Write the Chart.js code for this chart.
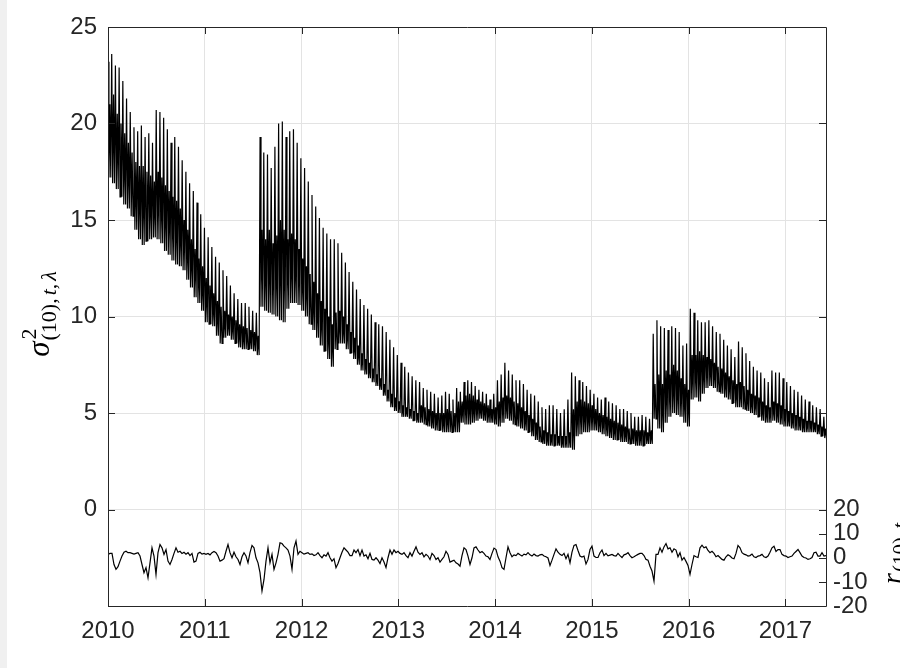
<!DOCTYPE html>
<html>
<head>
<meta charset="utf-8">
<script src="https://cdn.jsdelivr.net/npm/chart.js@4.4.1/dist/chart.umd.min.js"></script>
<style>
  html, body { margin: 0; padding: 0; background: #ffffff; }
  #wrap { width: 900px; height: 668px; position: relative; }
</style>
</head>
<body>
<div id="wrap"><canvas id="chart" width="900" height="668"></canvas></div>
<script>
// ---- data -------------------------------------------------------------
// Conditional variance, one record every 14 days: cycle peak, secondary level, trough.
const startYear = 2010;
const endYear = 2017.42;
const cycleDays = 14;

const sigmaHigh = [
  23.2, 23.6, 23.0, 22.9, 22.2, 21.3, 20.6, 19.8, 19.6, 19.9, 19.3, 19.5, 19.0, 20.7, 20.6, 20.3, 19.7, 19.0, 19.3, 18.8,
  18.1, 17.5, 16.9, 16.5, 15.9, 15.3, 14.6, 14.1, 13.6, 13.1, 12.8, 12.4, 12.1, 11.6, 11.2, 10.9, 10.7, 10.7, 10.5, 10.3,
  10.2,
  19.3, 18.5, 18.4, 17.7, 18.8, 20.0, 20.1, 19.3, 19.6, 19.7, 19.0, 18.2, 17.7, 17.0, 16.3, 15.7, 15.1, 14.6, 14.3, 14.0,
  14.0, 13.8, 13.3, 12.8, 12.3, 11.8, 11.4, 10.9, 10.6, 10.4, 10.1, 9.7, 9.6, 9.5, 9.2, 8.8, 8.4, 8.0, 7.6, 7.4,
  7.1, 6.9, 6.7, 6.6, 6.3, 6.2, 6.1, 6.0, 5.8, 5.9, 6.1, 6.0, 5.7, 6.3, 6.1, 6.6, 6.7, 6.6, 6.4, 6.2,
  6.1, 6.0, 5.7, 6.0, 6.7, 7.0, 7.6, 7.2, 7.0, 6.7, 6.7, 6.5, 6.2, 6.0, 5.9, 5.6, 5.3, 5.2, 5.4, 5.4,
  5.2, 5.0, 5.2, 5.7, 7.1, 6.9, 6.7, 6.6, 6.4, 6.2, 6.0, 5.8, 5.7, 5.8, 5.6, 5.5, 5.4, 5.2, 5.2, 5.1,
  5.0, 4.8, 4.8, 4.9, 4.8, 4.7, 9.1, 9.8, 9.5, 9.4, 9.3, 9.5, 9.4, 9.2, 8.5, 8.6, 10.4, 10.2, 9.8, 9.7,
  9.7, 9.8, 9.5, 9.2, 9.1, 8.8, 8.5, 8.3, 7.9, 8.7, 8.4, 8.1, 7.7, 7.4, 7.2, 7.1, 6.8, 6.6, 7.2, 7.1,
  7.1, 6.8, 6.6, 6.4, 6.2, 6.1, 5.9, 5.7, 5.6, 5.4, 5.3, 5.2, 4.8
];

const sigmaMid = [
  21.0, 21.5, 20.5, 20.0, 19.5, 19.0, 18.5, 18.0, 17.8, 17.8, 17.5, 17.3, 17.0, 17.5, 17.2, 16.8, 16.5, 16.2, 16.0, 15.6,
  15.0, 14.5, 14.0, 13.5, 13.0, 12.6, 12.0, 11.6, 11.2, 10.8, 10.5, 10.3, 10.1, 10.0, 9.8, 9.6, 9.5, 9.4, 9.3, 9.2,
  9.0,
  14.5, 14.0, 14.5, 13.8, 14.2, 15.0, 14.5, 14.0, 14.3, 14.0, 13.5, 13.0, 12.6, 12.2, 11.8, 11.2, 10.8, 10.4, 10.0, 9.6,
  10.2, 10.3, 10.0, 9.6, 9.2, 8.9, 8.5, 8.1, 7.8, 7.6, 7.3, 7.0, 6.8, 6.5, 6.2, 6.0, 5.8, 5.6, 5.4, 5.3,
  5.2, 5.1, 5.0, 5.4, 5.3, 5.2, 5.1, 5.0, 5.0, 5.0, 5.2, 5.1, 5.0, 5.6, 5.6, 5.9, 6.0, 5.9, 5.7, 5.6,
  5.5, 5.4, 5.2, 5.3, 5.6, 5.8, 5.9, 5.8, 5.6, 5.5, 5.3, 5.1, 4.9, 4.7, 4.5, 4.3, 4.1, 4.0, 3.9, 3.9,
  3.8, 3.8, 3.8, 4.0, 5.2, 5.6, 5.7, 5.6, 5.5, 5.4, 5.2, 5.0, 4.9, 4.8, 4.7, 4.6, 4.5, 4.4, 4.3, 4.2,
  4.2, 4.1, 4.1, 4.1, 4.0, 4.1, 6.5, 7.0, 6.5, 7.2, 7.0, 7.5, 7.2, 6.8, 6.5, 6.2, 8.0, 8.0, 8.2, 8.0,
  7.9, 7.8, 7.6, 7.4, 7.3, 7.1, 6.9, 6.7, 6.5, 6.6, 6.4, 6.2, 6.0, 5.9, 5.8, 5.6, 5.4, 5.3, 5.6, 5.5,
  5.4, 5.2, 5.1, 5.0, 4.9, 4.8, 4.7, 4.6, 4.6, 4.5, 4.4, 4.3, 4.2
];

const sigmaLow = [
  17.2, 16.9, 16.6, 16.2, 15.8, 15.6, 15.2, 14.5, 14.0, 13.7, 13.9, 14.0, 14.1, 14.0, 13.8, 13.4, 13.2, 12.9, 12.7, 12.6,
  12.4, 11.9, 11.5, 11.0, 10.7, 10.3, 9.7, 9.6, 9.5, 9.0, 8.6, 8.9, 9.0, 8.8, 8.6, 8.4, 8.3, 8.3, 8.3, 8.2,
  8.0,
  10.5, 10.3, 10.2, 10.1, 10.0, 9.8, 9.7, 10.4, 10.7, 10.7, 10.6, 10.3, 10.0, 9.6, 9.3, 8.9, 8.5, 8.2, 7.8, 7.4,
  8.3, 8.6, 8.6, 8.3, 8.1, 7.8, 7.5, 7.2, 7.0, 6.8, 6.6, 6.4, 6.2, 5.9, 5.6, 5.3, 5.1, 5.0, 4.8, 4.8,
  4.7, 4.6, 4.5, 4.5, 4.4, 4.3, 4.2, 4.1, 4.1, 4.0, 4.0, 4.0, 4.0, 4.0, 4.5, 4.4, 4.4, 4.5, 4.6, 4.7,
  4.6, 4.5, 4.5, 4.4, 4.3, 4.5, 4.7, 4.6, 4.4, 4.3, 4.2, 4.1, 4.0, 3.8, 3.6, 3.5, 3.4, 3.3, 3.3, 3.3,
  3.3, 3.2, 3.2, 3.2, 3.1, 3.8, 3.9, 4.0, 4.0, 4.1, 4.1, 4.0, 3.9, 3.8, 3.7, 3.6, 3.6, 3.5, 3.5, 3.4,
  3.4, 3.3, 3.3, 3.3, 3.4, 3.4, 4.7, 4.2, 4.0, 4.5, 4.8, 5.0, 4.9, 4.8, 4.5, 4.3, 5.7, 5.8, 5.6, 6.0,
  6.3, 6.4, 6.3, 6.1, 6.0, 5.8, 5.7, 5.5, 5.3, 5.3, 5.2, 5.1, 5.0, 4.9, 4.8, 4.6, 4.5, 4.5, 4.6, 4.5,
  4.4, 4.3, 4.3, 4.2, 4.1, 4.1, 4.0, 4.0, 4.0, 4.0, 3.9, 3.8, 3.7
];

// 10-day returns, evenly spaced from startYear to endYear.
const returns10 = [
  1.4, 1.8, 1.8, -2.8, -4.8, -3.7, -1.4, 0.7, 2.3, 2.7, 2.1, 2.1, 1.8, 1.5, 1.8, 2.1, 0.7, -2.8, -6.2, -4.1,
  -8.3, -2.1, 4.1, 0.7, -6.9, 2.1, 5.5, 4.1, 1.4, 3.4, -1.4, -2.8, -0.7, 1.8, 4.1, 2.3, 2.7, 1.8, 2.3, 1.5,
  2.1, 0.9, 1.8, -1.8, -1.4, 1.8, 2.3, 1.5, 1.8, 1.4, 1.8, 1.2, 2.1, 2.6, 2.1, 0.7, -1.4, -1.0, -0.4, 2.7,
  5.5, 2.1, 0.0, 2.3, 0.4, -0.7, -2.8, 0.4, 2.1, 0.7, -2.1, 2.1, 5.1, 4.1, 0.0, -2.1, -6.2, -13.8, -9.0, -1.4,
  4.1, -2.1, 1.4, -4.8, -2.1, 1.4, 6.2, 5.9, 4.8, 4.1, 3.2, 0.7, -4.8, 4.1, 6.9, 1.4, 2.7, 2.1, 1.5, 1.8,
  2.1, 1.4, 1.6, 0.9, 1.2, 2.1, 0.9, 0.0, 1.2, 0.7, 2.1, 0.0, -1.4, -0.4, -4.1, -2.4, 0.0, 2.3, 4.1, 3.2,
  2.3, 0.9, 0.9, 3.2, 2.1, 3.4, 0.9, 3.2, 0.7, 1.2, -0.4, 1.8, -0.7, -1.0, 0.0, -1.0, -2.4, 0.0, -1.8, -4.1,
  0.0, 3.2, 1.4, 3.2, 2.1, 2.7, 1.8, 1.4, 2.1, 0.9, 0.0, 2.1, 0.7, 2.7, 4.5, 2.3, 1.4, 2.1, 0.4, 1.4,
  0.7, -0.7, 1.8, 0.9, -0.7, 0.0, -1.8, -0.7, 0.4, 2.7, 1.4, -1.8, -1.4, -1.0, -2.1, -2.6, -3.5, 0.9, 4.1, 3.4,
  0.7, -2.8, 0.0, 4.1, 4.5, 3.2, 2.1, 2.6, 1.8, 0.7, 0.4, -0.7, 1.8, 4.0, 3.4, 0.4, -1.4, -4.1, -4.8, 0.0,
  4.5, 2.1, 0.4, 1.2, 0.9, 1.8, 1.2, 0.7, 1.5, 1.2, 2.1, 1.2, 0.7, 1.5, 0.9, 0.7, 1.2, 1.4, 0.7, 0.4,
  -0.1, -3.2, -1.0, 1.4, 3.7, 2.3, 1.4, 0.9, 1.8, -0.4, 1.4, -2.1, 2.3, 5.1, 5.5, 3.0, 0.7, 0.3, 0.7, -2.6,
  -0.7, 3.4, 4.8, 0.7, 0.1, 0.1, 2.1, 3.2, 0.9, 1.8, 0.8, 1.1, 1.4, 0.9, 0.7, 1.8, 0.9, 0.1, 1.2, 1.5,
  2.1, 0.9, 0.0, 0.4, 0.9, 1.4, 1.8, 1.8, 0.9, -0.7, -1.0, -3.5, -5.5, -9.7, 1.4, 1.4, 4.1, 2.3, 4.5, 5.9,
  3.7, 4.1, 2.3, 3.7, 3.2, 0.4, 2.1, -1.0, 0.1, -1.5, -3.2, -6.9, -2.8, 0.9, 0.4, 0.1, 4.1, 5.2, 4.1, 4.5,
  3.0, 2.1, 2.7, 1.8, 0.4, 0.9, 0.1, -0.7, -1.0, 0.4, 1.2, 0.7, -0.1, -0.4, 1.8, 5.1, 4.1, 2.1, 1.5, 1.2,
  0.7, 0.9, 1.5, 0.4, 0.1, 0.7, 0.9, 1.4, 0.4, 0.1, 0.7, 2.3, 4.1, 4.8, 2.6, 3.4, 3.4, 1.4, 0.9, 0.7,
  0.1, 0.4, 0.7, 1.8, 2.6, 3.4, 2.1, 0.7, 0.1, -0.1, -0.7, -0.4, 0.1, 2.1, 2.3, 0.7, 0.7, 2.1, 0.7, 0.9
];

// Tick labels
const yearTicks = [2010, 2011, 2012, 2013, 2014, 2015, 2016, 2017];
const sigmaTicks = [-5, 0, 5, 10, 15, 20, 25];
const returnTicks = [-20, -10, 0, 10, 20];

// ---- build point lists ------------------------------------------------
const cycleYears = cycleDays / 365.25;
const sigmaPoints = [];
sigmaHigh.forEach((h, i) => {
  const t = startYear + i * cycleYears;
  sigmaPoints.push({ x: t, y: h });
  sigmaPoints.push({ x: t + cycleYears * 0.25, y: sigmaLow[i] });
  sigmaPoints.push({ x: t + cycleYears * 0.5, y: sigmaMid[i] });
  sigmaPoints.push({ x: t + cycleYears * 0.75, y: sigmaLow[i] });
});
const returnStep = (endYear - startYear) / (returns10.length - 1);
const returnPoints = returns10.map((r, k) => ({ x: startYear + k * returnStep, y: r }));

// ---- style ------------------------------------------------------------
const AXIS = '#262626';
const GRID = '#e3e3e3';
const SANS = '"Liberation Sans", Arial, Helvetica, sans-serif';
const SERIF = '"Liberation Serif", "Times New Roman", serif';
const TICK_LEN = 7;

// Draws a math-style label: italic symbol, optional superscript, subscript pieces.
function drawMathLabel(ctx, opts) {
  const { symbol, sup, sub, big, small, supShift, subShift, gap } = opts;
  ctx.font = 'italic ' + big + 'px ' + SERIF;
  const wSym = ctx.measureText(symbol).width;
  let wSub = 0;
  sub.forEach(p => {
    ctx.font = (p.it ? 'italic ' : '') + small + 'px ' + SERIF;
    wSub += ctx.measureText(p.t).width + (p.after || 0);
  });
  const total = wSym + gap + wSub;
  const x0 = opts.align === 'center' ? -total / 2 : 0;
  ctx.font = 'italic ' + big + 'px ' + SERIF;
  ctx.fillText(symbol, x0, 0);
  if (sup) {
    ctx.font = small + 'px ' + SERIF;
    ctx.fillText(sup, x0 + wSym + gap + 1, supShift);
  }
  let xs = x0 + wSym + gap;
  sub.forEach(p => {
    ctx.font = (p.it ? 'italic ' : '') + small + 'px ' + SERIF;
    ctx.fillText(p.t, xs, subShift);
    xs += ctx.measureText(p.t).width + (p.after || 0);
  });
}

// Box, inward tick marks, axis labels and the figure edge strip.
const framePlugin = {
  id: 'frame',
  beforeDraw(chart) {
    const ctx = chart.ctx;
    ctx.save();
    ctx.fillStyle = '#f0f0f0';
    ctx.fillRect(0, 0, 7, chart.height);
    ctx.restore();
  },
  afterDraw(chart) {
    const { ctx, chartArea: a, scales } = chart;
    ctx.save();
    ctx.strokeStyle = AXIS;
    ctx.lineWidth = 1;
    ctx.beginPath();
    ctx.rect(Math.round(a.left) + 0.5, Math.round(a.top) + 0.5,
             Math.round(a.right - a.left), Math.round(a.bottom - a.top));
    ctx.stroke();

    ctx.beginPath();
    yearTicks.forEach(v => {
      const px = Math.round(scales.x.getPixelForValue(v)) + 0.5;
      ctx.moveTo(px, a.bottom); ctx.lineTo(px, a.bottom - TICK_LEN);
      ctx.moveTo(px, a.top); ctx.lineTo(px, a.top + TICK_LEN);
    });
    sigmaTicks.forEach(v => {
      const py = Math.round(scales.y.getPixelForValue(v)) + 0.5;
      ctx.moveTo(a.left, py); ctx.lineTo(a.left + TICK_LEN, py);
      ctx.moveTo(a.right, py); ctx.lineTo(a.right - TICK_LEN, py);
    });
    returnTicks.forEach(v => {
      const py = Math.round(scales.y2.getPixelForValue(v)) + 0.5;
      ctx.moveTo(a.right, py); ctx.lineTo(a.right - TICK_LEN, py);
    });
    ctx.stroke();
    ctx.restore();

    // left axis label: sigma^2_{(10),t,lambda}
    ctx.save();
    ctx.fillStyle = '#000000';
    ctx.textBaseline = 'alphabetic';
    ctx.textAlign = 'left';
    ctx.translate(49, 314);
    ctx.rotate(-Math.PI / 2);
    drawMathLabel(ctx, {
      symbol: 'σ', sup: '2', big: 31, small: 22, supShift: -13, subShift: 7, gap: 1,
      align: 'center',
      sub: [
        { t: '(10)', it: false }, { t: ',', it: false, after: 3 }, { t: 't', it: true },
        { t: ',', it: false, after: 3 }, { t: 'λ', it: true }
      ]
    });
    ctx.restore();

    // right axis label: r_{(10),t}
    ctx.save();
    ctx.fillStyle = '#000000';
    ctx.textBaseline = 'alphabetic';
    ctx.textAlign = 'left';
    ctx.translate(901, scales.y2.getPixelForValue(-10) + 2);
    ctx.rotate(-Math.PI / 2);
    drawMathLabel(ctx, {
      symbol: 'r', sup: null, big: 28, small: 21, supShift: 0, subShift: 6, gap: 1,
      align: 'left',
      sub: [{ t: '(10)', it: false }, { t: ',', it: false, after: 3 }, { t: 't', it: true }]
    });
    ctx.restore();
  }
};

const tickFont = { family: SANS, size: 24 };

new Chart(document.getElementById('chart'), {
  type: 'line',
  data: {
    datasets: [
      {
        label: 'sigma',
        data: sigmaPoints,
        yAxisID: 'y',
        borderColor: '#000000',
        borderWidth: 1.2,
        pointRadius: 0,
        tension: 0,
        fill: false
      },
      {
        label: 'r',
        data: returnPoints,
        yAxisID: 'y2',
        borderColor: '#000000',
        borderWidth: 1.2,
        pointRadius: 0,
        tension: 0,
        fill: false
      }
    ]
  },
  options: {
    responsive: false,
    devicePixelRatio: 1,
    animation: false,
    layout: { padding: { top: 27, left: 0, right: 0, bottom: 0 } },
    plugins: {
      legend: { display: false },
      tooltip: { enabled: false },
      title: { display: false }
    },
    scales: {
      x: {
        type: 'linear',
        position: 'bottom',
        min: startYear,
        max: endYear,
        afterBuildTicks: s => { s.ticks = yearTicks.map(v => ({ value: v })); },
        afterFit: s => { s.height = 62; },
        ticks: {
          callback: v => String(v),
          font: tickFont,
          color: AXIS,
          padding: 11,
          maxRotation: 0,
          autoSkip: false
        },
        grid: { color: GRID, lineWidth: 1, drawTicks: false },
        border: { display: false }
      },
      y: {
        type: 'linear',
        position: 'left',
        min: -5,
        max: 25,
        afterBuildTicks: s => { s.ticks = sigmaTicks.map(v => ({ value: v })); },
        afterFit: s => { s.width = 108; },
        ticks: {
          callback: v => (v < 0 ? '' : String(v)),
          font: tickFont,
          color: AXIS,
          padding: 11,
          autoSkip: false
        },
        grid: { color: GRID, lineWidth: 1, drawTicks: false },
        border: { display: false }
      },
      y2: {
        type: 'linear',
        position: 'right',
        min: -20,
        max: 220,
        afterBuildTicks: s => { s.ticks = returnTicks.map(v => ({ value: v })); },
        afterFit: s => { s.width = 74; },
        ticks: {
          callback: v => String(v),
          font: tickFont,
          color: AXIS,
          padding: 7,
          autoSkip: false
        },
        grid: { display: false, drawTicks: false },
        border: { display: false }
      }
    }
  },
  plugins: [framePlugin]
});
</script>
</body>
</html>
